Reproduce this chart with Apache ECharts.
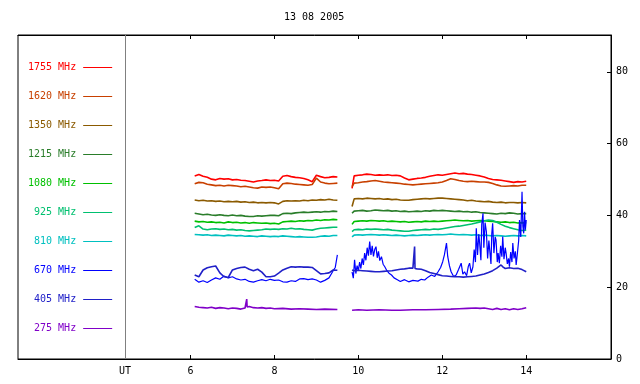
<!DOCTYPE html>
<html>
<head>
<meta charset="utf-8">
<script src="https://cdn.jsdelivr.net/npm/echarts@6/dist/echarts.min.js"></script>
<style>html,body{margin:0;padding:0;background:#fff}#chart{width:640px;height:384px}</style>
</head>
<body>
<div id="chart"></div>
<script>
// time grid (UT hours) for the two recording blocks
var t1 = [6.1,6.2,6.3,6.4,6.5,6.6,6.7,6.8,6.9,7.0,7.1,7.2,7.3,7.4,7.5,7.6,7.7,7.8,7.9,8.0,
	8.1,8.2,8.3,8.4,8.5,8.6,8.7,8.8,8.9,9.0,9.1,9.2,9.3,9.4,9.5];
var t2 = [9.85,9.9,10.0,10.1,10.2,10.3,10.4,10.5,10.6,10.7,10.8,10.9,11.0,11.1,11.2,11.3,11.4,11.5,11.6,11.7,
	11.8,11.9,12.0,12.1,12.2,12.3,12.4,12.5,12.6,12.7,12.8,12.9,13.0,13.1,13.2,13.3,13.4,13.5,13.6,13.7,
	13.8,13.9,14.0];

var f1755a = [51.0,51.4,50.9,50.6,50.1,49.9,50.3,50.1,50.2,49.9,50.0,49.8,49.7,49.5,49.3,49.6,49.7,49.9,49.7,49.8,
	49.6,50.9,51.1,50.8,50.6,50.5,50.3,49.9,49.4,51.2,50.8,50.5,50.6,50.8,50.7];
var f1755b = [47.5,51.0,51.2,51.3,51.5,51.4,51.2,51.3,51.2,51.3,51.1,51.2,51.0,50.4,49.9,50.1,50.3,50.4,50.6,50.9,
	51.1,51.3,51.2,51.4,51.6,51.8,51.6,51.7,51.5,51.4,51.2,51.0,50.7,50.3,50.0,49.9,49.8,49.6,49.4,49.2,
	49.4,49.3,49.5];

var f1620a = [48.8,49.2,49.1,48.7,48.5,48.3,48.4,48.2,48.4,48.3,48.2,48.0,48.1,47.9,47.7,47.6,47.9,47.8,47.9,47.7,
	47.4,48.8,49.0,48.9,48.7,48.6,48.5,48.4,48.6,50.4,49.3,49.0,48.8,48.9,49.0];
var f1620b = [48.0,49.0,49.1,49.3,49.4,49.6,49.7,49.5,49.3,49.2,49.1,49.0,48.9,48.7,48.6,48.5,48.6,48.7,48.8,48.9,
	49.0,49.1,49.3,49.7,50.2,50.0,49.7,49.5,49.4,49.5,49.4,49.3,49.3,49.2,48.9,48.5,48.2,48.1,48.2,48.3,
	48.2,48.4,48.4];

var f1350a = [44.3,44.1,44.2,44.0,44.1,43.9,44.0,43.8,43.9,43.8,43.9,43.7,43.8,43.6,43.7,43.5,43.6,43.5,43.6,43.5,
	43.2,43.9,44.1,44.0,44.1,44.0,44.2,44.1,44.3,44.2,44.4,44.3,44.5,44.3,44.2];
var f1350b = [42.5,44.6,44.7,44.6,44.8,44.7,44.6,44.7,44.5,44.6,44.4,44.5,44.3,44.2,44.2,44.4,44.5,44.6,44.7,44.6,
	44.7,44.8,44.8,44.7,44.6,44.5,44.4,44.3,44.1,44.2,44.0,43.9,43.8,43.9,43.7,43.6,43.7,43.5,43.6,43.6,
	43.5,43.6,43.5];

var f1215a = [40.6,40.4,40.2,40.3,40.1,40.0,40.2,40.0,39.9,40.1,39.9,40.0,39.8,39.7,39.7,39.9,39.8,39.9,40.0,40.0,
	39.9,40.5,40.6,40.5,40.7,40.8,40.9,40.8,40.9,41.0,40.9,41.1,41.0,41.2,41.1];
var f1215b = [40.6,41.2,41.3,41.4,41.2,41.3,41.5,41.4,41.3,41.4,41.2,41.3,41.1,41.2,41.0,41.1,41.2,41.1,41.3,41.2,
	41.4,41.3,41.4,41.3,41.2,41.1,41.2,41.0,41.1,40.9,41.0,40.8,40.7,40.6,40.5,40.4,40.6,40.5,40.7,40.6,
	40.4,40.5,40.5];

var f1080a = [38.4,38.2,38.3,38.1,38.2,38.0,38.1,37.9,38.2,38.0,38.1,37.9,38.0,37.8,38.0,37.9,37.8,37.9,37.7,37.8,
	37.6,38.2,38.3,38.4,38.3,38.5,38.4,38.6,38.5,38.7,38.6,38.8,38.7,38.9,38.8];
var f1080b = [37.5,38.3,38.4,38.5,38.4,38.6,38.5,38.4,38.5,38.3,38.4,38.3,38.2,38.3,38.1,38.2,38.3,38.2,38.4,38.3,
	38.4,38.3,38.4,38.5,38.6,38.7,38.6,38.5,38.6,38.4,38.5,38.6,38.5,38.4,38.3,38.2,38.1,38.2,38.0,38.1,
	37.9,38.0,37.9];

var f925a = [36.6,37.1,36.2,36.0,36.2,36.3,36.1,36.2,36.0,36.1,35.9,36.0,35.8,35.7,35.8,35.9,36.0,36.2,36.1,36.2,
	36.1,36.3,36.2,36.4,36.2,36.3,36.1,36.0,35.9,36.2,36.4,36.5,36.6,36.7,36.7];
var f925b = [35.5,36.0,36.1,36.0,36.2,36.1,36.2,36.1,36.0,36.1,35.9,35.8,35.7,35.6,35.6,35.8,35.9,36.0,36.1,36.0,
	36.2,36.1,36.3,36.5,36.7,36.9,37.0,37.2,37.4,37.6,37.9,38.2,38.5,38.7,38.6,38.1,37.5,37.0,36.6,36.3,
	36.0,35.8,35.9];

var f810a = [34.7,34.6,34.5,34.6,34.4,34.5,34.4,34.3,34.5,34.4,34.3,34.4,34.2,34.3,34.2,34.1,34.3,34.2,34.1,34.2,
	34.1,34.3,34.2,34.1,34.0,34.1,34.0,33.9,33.9,34.0,34.2,34.3,34.2,34.4,34.4];
var f810b = [34.0,34.5,34.6,34.5,34.6,34.7,34.6,34.5,34.6,34.5,34.4,34.5,34.4,34.3,34.4,34.5,34.4,34.5,34.6,34.5,
	34.6,34.7,34.6,34.7,34.8,34.7,34.6,34.7,34.6,34.5,34.6,34.4,34.5,34.4,34.3,34.4,34.3,34.2,34.3,34.4,
	34.3,34.4,34.3];

// the three low channels are read as [UT, value] pairs (spiky)
var f670a = [[6.1,22.2],[6.2,21.4],[6.3,21.8],[6.4,21.3],[6.5,22.0],[6.6,22.6],[6.7,22.2],[6.8,23.1],[6.9,22.6],[7.0,22.9],
	[7.1,22.3],[7.2,22.0],[7.3,22.2],[7.4,21.6],[7.5,21.4],[7.6,21.8],[7.7,22.1],[7.8,21.8],[7.9,22.2],[8.0,21.9],
	[8.1,22.0],[8.2,21.5],[8.3,21.4],[8.4,21.8],[8.5,21.6],[8.6,22.3],[8.7,22.4],[8.8,22.1],[8.9,22.3],[9.0,22.0],
	[9.1,21.4],[9.2,21.9],[9.3,22.6],[9.4,24.6],[9.45,25.5],[9.5,29.0]];
var f670b = [[9.85,24.3],[9.88,22.5],[9.91,27.6],[9.94,23.8],[9.97,26.0],[10.0,24.6],[10.03,27.0],[10.06,25.2],[10.09,28.0],
	[10.12,26.2],[10.15,29.5],[10.18,27.5],[10.21,31.0],[10.24,28.8],[10.27,32.7],[10.30,29.0],[10.33,31.5],[10.36,28.6],
	[10.39,30.5],[10.42,31.3],[10.45,28.2],[10.48,30.0],[10.51,27.4],[10.55,28.5],[10.59,26.4],[10.63,25.7],[10.68,24.6],
	[10.73,23.9],[10.79,23.4],[10.85,22.6],[10.94,22.0],[11.0,21.6],[11.1,22.1],[11.2,21.5],[11.3,21.9],[11.42,21.7],
	[11.5,22.2],[11.58,22.0],[11.66,22.8],[11.74,23.4],[11.82,23.0],[11.9,24.3],[11.96,25.5],[12.01,27.1],[12.05,29.0],
	[12.1,32.3],[12.13,28.5],[12.17,26.0],[12.21,24.3],[12.27,23.0],[12.33,23.4],[12.39,25.0],[12.45,26.7],[12.49,23.6],
	[12.53,24.3],[12.58,23.2],[12.62,25.8],[12.65,26.7],[12.69,24.0],[12.73,25.7],[12.76,30.5],[12.79,27.0],[12.81,36.4],
	[12.84,29.0],[12.87,34.8],[12.89,32.3],[12.92,27.5],[12.94,37.5],[12.97,40.6],[12.99,31.0],[13.02,38.0],[13.05,35.5],
	[13.08,28.0],[13.11,33.0],[13.13,30.4],[13.16,26.5],[13.18,35.0],[13.20,37.8],[13.23,29.5],[13.26,34.0],[13.28,33.2],
	[13.31,27.0],[13.33,29.5],[13.36,26.7],[13.39,31.5],[13.42,28.5],[13.44,34.1],[13.47,27.8],[13.50,31.0],[13.52,29.5],
	[13.55,26.5],[13.58,28.0],[13.60,25.7],[13.63,29.8],[13.66,27.0],[13.68,32.3],[13.71,28.0],[13.74,30.0],[13.76,26.2],
	[13.79,29.5],[13.82,33.0],[13.84,38.7],[13.87,34.0],[13.90,46.6],[13.92,37.0],[13.94,35.0],[13.96,41.0],[13.98,36.0],
	[14.0,38.7]];

var f405a = [[6.1,23.4],[6.2,22.9],[6.3,24.8],[6.4,25.4],[6.5,25.7],[6.6,25.9],[6.7,24.0],[6.8,22.9],[6.9,22.7],[7.0,24.8],
	[7.1,25.2],[7.2,25.5],[7.3,25.6],[7.4,25.0],[7.5,24.6],[7.6,25.0],[7.7,24.2],[7.8,22.9],[7.9,22.9],[8.0,23.1],
	[8.1,23.9],[8.2,24.8],[8.3,25.3],[8.4,25.7],[8.5,25.6],[8.6,25.7],[8.7,25.6],[8.8,25.6],[8.9,25.5],[9.0,24.6],
	[9.1,23.7],[9.2,23.8],[9.3,24.0],[9.4,24.8],[9.5,24.7]];
var f405b = [[9.85,24.8],[9.9,24.6],[10.0,24.7],[10.1,24.6],[10.2,24.5],[10.3,24.4],[10.4,24.3],[10.5,24.3],[10.6,24.4],
	[10.7,24.5],[10.8,24.6],[10.9,24.8],[11.0,25.0],[11.1,25.1],[11.2,25.3],[11.3,25.3],[11.33,25.2],[11.34,31.3],[11.35,25.2],
	[11.4,25.1],[11.5,25.0],[11.6,24.6],[11.7,24.1],[11.8,23.8],[11.9,23.5],[12.0,23.2],[12.1,23.1],[12.2,23.0],[12.3,22.9],
	[12.4,22.9],[12.5,22.8],[12.6,22.9],[12.7,23.0],[12.8,23.1],[12.9,23.4],[13.0,23.7],[13.1,24.1],[13.2,24.6],[13.3,25.3],
	[13.4,26.2],[13.45,25.6],[13.5,25.2],[13.6,25.4],[13.7,25.2],[13.8,25.3],[13.9,24.9],[14.0,24.3]];

var f275a = [[6.1,14.6],[6.2,14.4],[6.3,14.3],[6.4,14.2],[6.5,14.4],[6.6,14.1],[6.7,14.3],[6.8,14.2],[6.9,14.0],[7.0,14.2],
	[7.1,14.1],[7.2,13.9],[7.3,14.2],[7.33,14.3],[7.34,16.7],[7.35,14.5],[7.4,14.6],[7.5,14.3],[7.6,14.2],[7.7,14.3],
	[7.8,14.1],[7.9,14.2],[8.0,14.0],[8.2,14.1],[8.4,13.9],[8.6,14.0],[8.8,13.9],[9.0,13.8],[9.2,13.9],[9.5,13.8]];
var f275b = [[9.85,13.6],[10.0,13.7],[10.2,13.6],[10.5,13.7],[10.8,13.6],[11.0,13.6],[11.3,13.7],[11.6,13.7],[11.9,13.8],
	[12.2,13.9],[12.4,14.0],[12.6,14.1],[12.8,14.2],[12.9,14.1],[13.0,14.2],[13.1,14.0],[13.2,13.8],[13.3,14.1],[13.4,13.8],
	[13.5,14.0],[13.6,13.7],[13.7,14.0],[13.8,13.8],[13.9,14.0],[14.0,14.3]];

var names = ['1755 MHz','1620 MHz','1350 MHz','1215 MHz','1080 MHz','925 MHz','810 MHz','670 MHz','405 MHz','275 MHz'];
var colors = ['#ff0000','#c84000','#8b5a00','#2a7d2a','#00c000','#00c070','#00c0c0','#0000ff','#2020c8','#8000c8'];
var xTicks = [6, 8, 10, 12, 14];
var yTicks = [0, 20, 40, 60, 80];
var utPos = 4.44;
var gapPos = 9.7;

function gridSeries(a, b){
	var d = [];
	for (var i = 0; i < t1.length; i++) d.push([t1[i], a[i]]);
	d.push([gapPos, null]);
	for (var j = 0; j < t2.length; j++) d.push([t2[j], b[j]]);
	return d;
}

function pairSeries(a, b){
	return a.concat([[gapPos, null]], b);
}

var chartData = [
	gridSeries(f1755a, f1755b),
	gridSeries(f1620a, f1620b),
	gridSeries(f1350a, f1350b),
	gridSeries(f1215a, f1215b),
	gridSeries(f1080a, f1080b),
	gridSeries(f925a, f925b),
	gridSeries(f810a, f810b),
	pairSeries(f670a, f670b),
	pairSeries(f405a, f405b),
	pairSeries(f275a, f275b)
];

var font = 'DejaVu Sans Mono';
var chart = echarts.init(document.getElementById('chart'));

var series = [];
var legendData = [];
for (var k = 0; k < names.length; k++){
	series.push({
		name: names[k],
		type: 'line',
		data: chartData[k],
		showSymbol: false,
		symbol: 'none',
		connectNulls: false,
		animation: false,
		color: colors[k],
		lineStyle: {width: k == 7 ? 1.2 : 1.6, color: colors[k]},
		markLine: k == 0 ? {
			silent: true,
			symbol: 'none',
			label: {show: false},
			lineStyle: {color: '#808080', type: 'solid', width: 1},
			data: [{xAxis: utPos}]
		} : undefined
	});
	legendData.push({name: names[k], textStyle: {color: colors[k]}});
}

var option = {
	backgroundColor: '#fff',
	animation: false,
	title: {
		text: '13 08 2005',
		left: 279,
		top: 7,
		textStyle: {fontFamily: font, fontSize: 10, fontWeight: 'normal', color: '#000'}
	},
	legend: {
		orient: 'vertical',
		left: 28,
		top: 61,
		padding: 0,
		align: 'right',
		icon: 'rect',
		itemWidth: 29,
		itemHeight: 1,
		itemGap: 16,
		selectedMode: false,
		textStyle: {fontFamily: font, fontSize: 10, lineHeight: 13, width: 48, align: 'right', padding: [0, 2, 0, 0]},
		data: legendData
	},
	grid: {
		left: 18, right: 29, top: 35, bottom: 25,
		show: true, borderColor: '#000', borderWidth: 1
	},
	xAxis: [{
		type: 'value',
		min: 1.89, max: 16.02,
		axisLine: {show: true, lineStyle: {color: '#000'}},
		axisTick: {show: true, inside: true, length: 4, customValues: xTicks, lineStyle: {color: '#000'}},
		axisLabel: {
			customValues: [utPos].concat(xTicks),
			margin: 7,
			fontFamily: font, fontSize: 10, color: '#000',
			formatter: function(v){ return v < 5 ? 'UT' : String(v); }
		},
		splitLine: {show: false}
	}, {
		type: 'value',
		position: 'top',
		min: 1.89, max: 16.02,
		axisLine: {show: true, lineStyle: {color: '#000'}},
		axisTick: {show: true, inside: true, length: 4, customValues: xTicks, lineStyle: {color: '#000'}},
		axisLabel: {show: false},
		splitLine: {show: false}
	}],
	yAxis: {
		type: 'value',
		position: 'right',
		min: 0, max: 90.25,
		interval: 20,
		axisLine: {show: true, lineStyle: {color: '#000'}},
		axisTick: {show: true, inside: true, length: 4, customValues: yTicks, lineStyle: {color: '#000'}},
		axisLabel: {customValues: yTicks, margin: 5, fontFamily: font, fontSize: 10, color: '#000'},
		splitLine: {show: false}
	},
	series: series
};
chart.setOption(option);
</script>
</body>
</html>
